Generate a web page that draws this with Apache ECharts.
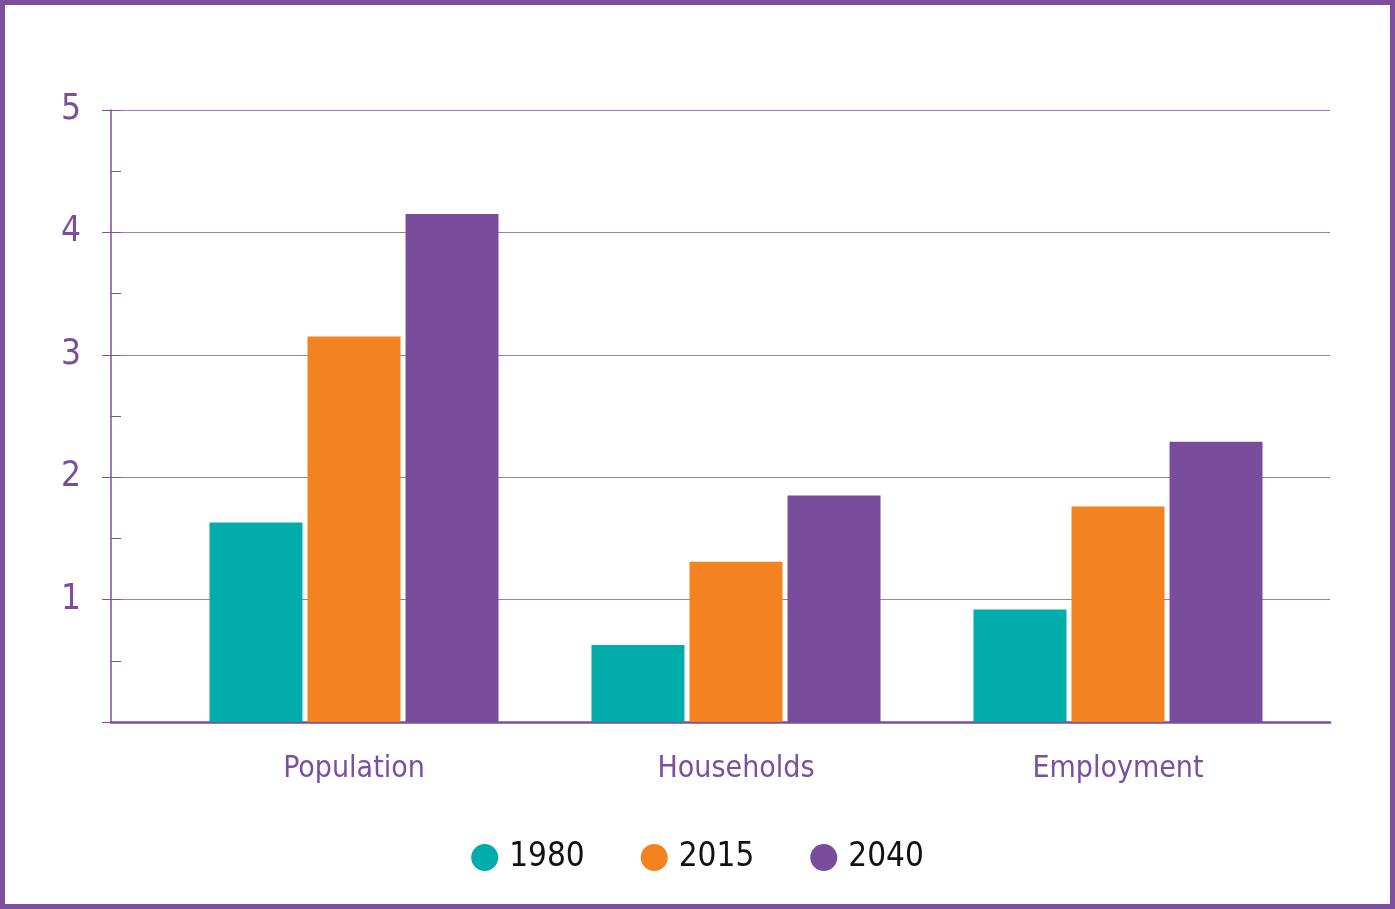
<!DOCTYPE html>
<html>
<head>
<meta charset="utf-8">
<script src="https://cdn.jsdelivr.net/npm/echarts@6/dist/echarts.min.js"></script>
<style>
    html, body { margin: 0; padding: 0; background: #fff; }
    #wrap { position: relative; width: 1395px; height: 909px; }
    #chart { width: 1395px; height: 909px; }
    #frame {
        position: absolute; left: 0; top: 0; width: 1395px; height: 909px;
        box-sizing: border-box; border: 5px solid #7B4F9E; pointer-events: none;
    }
</style>
</head>
<body>
<div id="wrap">
    <div id="chart"></div>
    <div id="frame"></div>
</div>
<script>
// 数据
const categories = ['Population', 'Households', 'Employment'];
const seriesNames = ['1980', '2015', '2040'];
const data1980 = [1.63, 0.63, 0.92];
const data2015 = [3.15, 1.31, 1.76];
const data2040 = [4.15, 1.85, 2.29];
const yTicks = [0, 1, 2, 3, 4, 5];

const purple = '#7B4F9E';
const colors = ['#00ADAA', '#F38220', '#7A4D9C'];
const font = "'Liberation Sans Narrow', 'DejaVu Sans Condensed', sans-serif";

const chart = echarts.init(document.getElementById('chart'));

const option = {
    animation: false,
    color: colors,
    legend: {
        data: seriesNames,
        bottom: 30,
        left: 'center',
        icon: 'circle',
        itemWidth: 27,
        itemHeight: 27,
        itemGap: 56,
        textStyle: {
            fontFamily: font,
            fontSize: 33,
            color: '#111',
            padding: [0, 0, 0, 6]
        }
    },
    grid: [
        { left: 111, right: 65, top: 110, bottom: 187 },
        { left: 163, right: 86, top: 110, bottom: 187 }
    ],
    xAxis: [
        {
            type: 'category',
            gridIndex: 0,
            data: categories,
            axisLine: { lineStyle: { color: purple, width: 2.5 } },
            axisTick: { show: false },
            axisLabel: { show: false }
        },
        {
            type: 'category',
            gridIndex: 1,
            data: categories,
            axisLine: { show: false },
            axisTick: { show: false },
            axisLabel: {
                color: purple,
                fontFamily: font,
                fontSize: 30,
                margin: 32
            }
        }
    ],
    yAxis: [
        {
            type: 'value',
            gridIndex: 0,
            min: yTicks[0],
            max: yTicks[yTicks.length - 1],
            interval: 1,
            axisLine: { show: true, lineStyle: { color: purple, width: 1.5 } },
            axisTick: { show: true, length: 9, lineStyle: { color: purple, width: 1 } },
            splitLine: { lineStyle: { color: '#9B7BB8', width: 1.2 } },
            axisLabel: {
                color: purple,
                fontFamily: font,
                fontSize: 35,
                margin: 30,
                padding: [0, 0, 10, 0],
                formatter: v => (v === 0 ? '' : String(v))
            }
        },
        {
            // 内侧小刻度
            type: 'value',
            gridIndex: 0,
            position: 'left',
            min: 0,
            max: 5,
            interval: 0.5,
            axisLine: { show: false },
            axisTick: { show: true, inside: true, length: 10, lineStyle: { color: purple, width: 1 } },
            splitLine: { show: false },
            axisLabel: { show: false }
        },
        {
            type: 'value',
            gridIndex: 1,
            min: 0,
            max: 5,
            show: false
        }
    ],
    series: [
        { name: seriesNames[0], data: data1980 },
        { name: seriesNames[1], data: data2015 },
        { name: seriesNames[2], data: data2040 }
    ].map(s => ({
        type: 'bar',
        name: s.name,
        data: s.data,
        xAxisIndex: 1,
        yAxisIndex: 2,
        barWidth: 93,
        barGap: '5.4%'
    }))
};

chart.setOption(option);

window.addEventListener('resize', function() {
    chart.resize();
});
</script>
</body>
</html>
